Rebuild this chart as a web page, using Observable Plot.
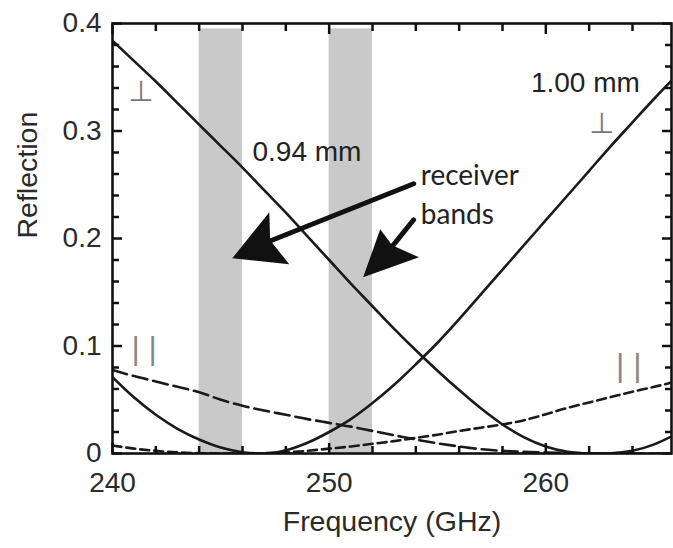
<!DOCTYPE html>
<html><head><meta charset="utf-8">
<script src="https://cdn.jsdelivr.net/npm/d3@7"></script>
<script src="https://cdn.jsdelivr.net/npm/@observablehq/plot@0.6"></script>
<style>body{margin:0;background:#fff;} svg{display:block;}</style>
</head><body><div id="chart"></div>
<script>
// ---- data ----
const freq     = [240,241,242,243,244,245,246,247,248,249,250,251,252,253,254,255,256,257,258,259,260,261,262,263,264,265,266];
const perp094  = [.384,.365,.346,.326,.306,.286,.266,.245,.224,.202,.180,.158,.137,.116,.096,.077,.059,.042,.027,.015,.0065,.0015,0,.0003,.0025,.0085,.018];
const perp100  = [.071,.052,.036,.023,.013,.0055,.0012,0,.003,.010,.020,.032,.047,.064,.083,.103,.125,.148,.171,.194,.217,.240,.263,.286,.308,.330,.351];
const par094   = [.0776,.072,.067,.062,.057,.050,.0444,.040,.036,.032,.0285,.025,.021,.017,.013,.0095,.0065,.004,.0025,.0015,.001,.0005,.0002,0,0,0,0];
const par100   = [.0075,.0045,.0025,.001,.0003,0,0,.0003,.001,.0025,.0045,.0065,.009,.0115,.0145,.0175,.021,.024,.027,.031,.0365,.0425,.0475,.0525,.0575,.062,.067];

const bandStart = [244, 250];
const bandEnd   = [246, 252];
const bandTop   = 0.395;

const xTickLabels = [240, 250, 260];
const yTickLabels = [0, 0.1, 0.2, 0.3, 0.4];
const xMinorTicks = [242, 244, 246, 248, 252, 254, 256, 258, 262, 264];
const yMinorTicks = [0.02, 0.04, 0.06, 0.08, 0.12, 0.14, 0.16, 0.18, 0.22, 0.24, 0.26, 0.28, 0.32, 0.34, 0.36, 0.38];

// annotations (data coordinates)
const thicknessLabels = [
  {text: "0.94 mm", f: 246.46, r: 0.272},
  {text: "1.00 mm", f: 259.31, r: 0.3365}
];
const receiverLabels = [
  {text: "receiver", f: 254.23, r: 0.250},
  {text: "bands",    f: 254.23, r: 0.2137}
];
const perpLabels = [ {f: 241.31, r: 0.328}, {f: 262.58, r: 0.2985} ];
const parLabels  = [ {f: 241.46, r: 0.0881}, {f: 263.83, r: 0.072} ];

const arrow1Shaft = [{f: 253.90, r: 0.2509}, {f: 247.30, r: 0.1979}];
const arrow1Head  = [
  {f1: 245.55, r1: 0.1811, f2: 245.55, r2: 0.1811},
  {f1: 247.26, r1: 0.2239, f2: 248.18, r2: 0.1755},
  {f1: 247.30, r1: 0.1979, f2: 247.30, r2: 0.1979}
];
const arrow2Shaft = [{f: 253.90, r: 0.2174}, {f: 252.93, r: 0.1932}];
const arrow2Head  = [
  {f1: 251.59, r1: 0.1634, f2: 251.59, r2: 0.1634},
  {f1: 252.38, r1: 0.2081, f2: 254.17, r2: 0.1820},
  {f1: 252.93, r1: 0.1932, f2: 252.93, r2: 0.1932}
];

// ---- layout ----
const W = 673, H = 548;
const mL = 112, mR = 2, mT = 23, mB = 95;
const xDom = [240, 265.8], yDom = [0, 0.4];
const minorLen = 7, majorLen = 10;
const ink = "#1a1a1a";
const tickInk = "#111";
const rows = freq.map((f, i) => ({f, a: perp094[i], b: perp100[i], c: par094[i], d: par100[i]}));

// inward ticks on all four sides, drawn with Plot's own axis marks (negative tickSize)
const inwardTicks = [];
for (const anchor of ["bottom", "top"]) {
  inwardTicks.push(Plot.axisX({anchor, ticks: xMinorTicks, tickSize: -minorLen, tickFormat: () => "", label: null, stroke: tickInk, strokeWidth: 2.5}));
  inwardTicks.push(Plot.axisX({anchor, ticks: xTickLabels, tickSize: -majorLen, tickFormat: () => "", label: null, stroke: tickInk, strokeWidth: 2.5}));
}
for (const anchor of ["left", "right"]) {
  inwardTicks.push(Plot.axisY({anchor, ticks: yMinorTicks, tickSize: -minorLen, tickFormat: () => "", label: null, stroke: tickInk, strokeWidth: 2.5}));
  inwardTicks.push(Plot.axisY({anchor, ticks: yTickLabels, tickSize: -majorLen, tickFormat: () => "", label: null, stroke: tickInk, strokeWidth: 2.5}));
}

const chart = Plot.plot({
  width: W, height: H,
  marginLeft: mL, marginRight: mR, marginTop: mT, marginBottom: mB,
  x: {domain: xDom},
  y: {domain: yDom},
  style: {fontFamily: "'Liberation Sans', Arial, sans-serif", fontSize: "28px", color: "#2a2a2a", background: "#fff"},
  marks: [
    Plot.rect(bandStart, {x1: d => d, x2: (d, i) => bandEnd[i], y1: 0, y2: bandTop, fill: "#c9c9c9"}),
    Plot.line(rows, {x: "f", y: "c", stroke: ink, strokeWidth: 2.6, strokeDasharray: "15,6", curve: "monotone-x", clip: true}),
    Plot.line(rows, {x: "f", y: "d", stroke: ink, strokeWidth: 2.6, strokeDasharray: "9,5", curve: "monotone-x", clip: true}),
    Plot.line(rows, {x: "f", y: "a", stroke: ink, strokeWidth: 2.6, curve: "monotone-x", clip: true}),
    Plot.line(rows, {x: "f", y: "b", stroke: ink, strokeWidth: 2.6, curve: "monotone-x", clip: true}),
    // arrows
    Plot.line(arrow1Shaft, {x: "f", y: "r", stroke: "#111", strokeWidth: 5}),
    Plot.area(arrow1Head, {x1: "f1", y1: "r1", x2: "f2", y2: "r2", fill: "#111"}),
    Plot.line(arrow2Shaft, {x: "f", y: "r", stroke: "#111", strokeWidth: 5}),
    Plot.area(arrow2Head, {x1: "f1", y1: "r1", x2: "f2", y2: "r2", fill: "#111"}),
    // text annotations
    Plot.text(thicknessLabels, {x: "f", y: "r", text: "text", textAnchor: "start", lineAnchor: "bottom", fontSize: 28, fill: "#222"}),
    Plot.text(receiverLabels, {x: "f", y: "r", text: "text", textAnchor: "start", lineAnchor: "bottom", fontSize: 28, fill: "#222", fontFamily: "Lato, 'Liberation Sans', sans-serif"}),
    Plot.text(perpLabels, {x: "f", y: "r", text: () => "⊥", lineAnchor: "bottom", fontSize: 29, fill: "#777", fontFamily: "'DejaVu Sans', sans-serif"}),
    Plot.text(parLabels, {x: "f", y: "r", text: () => "| |", lineAnchor: "bottom", fontSize: 32, fill: "#888"}),
    // frame and inward ticks
    Plot.frame({stroke: "#111", strokeWidth: 2.6}),
    ...inwardTicks,
    // tick labels
    Plot.axisX(xTickLabels, {tickSize: 0, tickPadding: 19, label: null, fontSize: 28}),
    Plot.axisY(yTickLabels, {tickSize: 0, tickPadding: 11, label: null, fontSize: 28, tickFormat: d => d === 0 ? "0" : String(d)}),
    // axis titles
    Plot.text(["Frequency (GHz)"], {frameAnchor: "bottom", lineAnchor: "bottom", dy: 77, fontSize: 28.5}),
    Plot.text(["Reflection"], {frameAnchor: "left", rotate: -90, lineAnchor: "bottom", dx: -76, fontSize: 28.5})
  ]
});
document.getElementById("chart").append(chart);
</script>
</body></html>
